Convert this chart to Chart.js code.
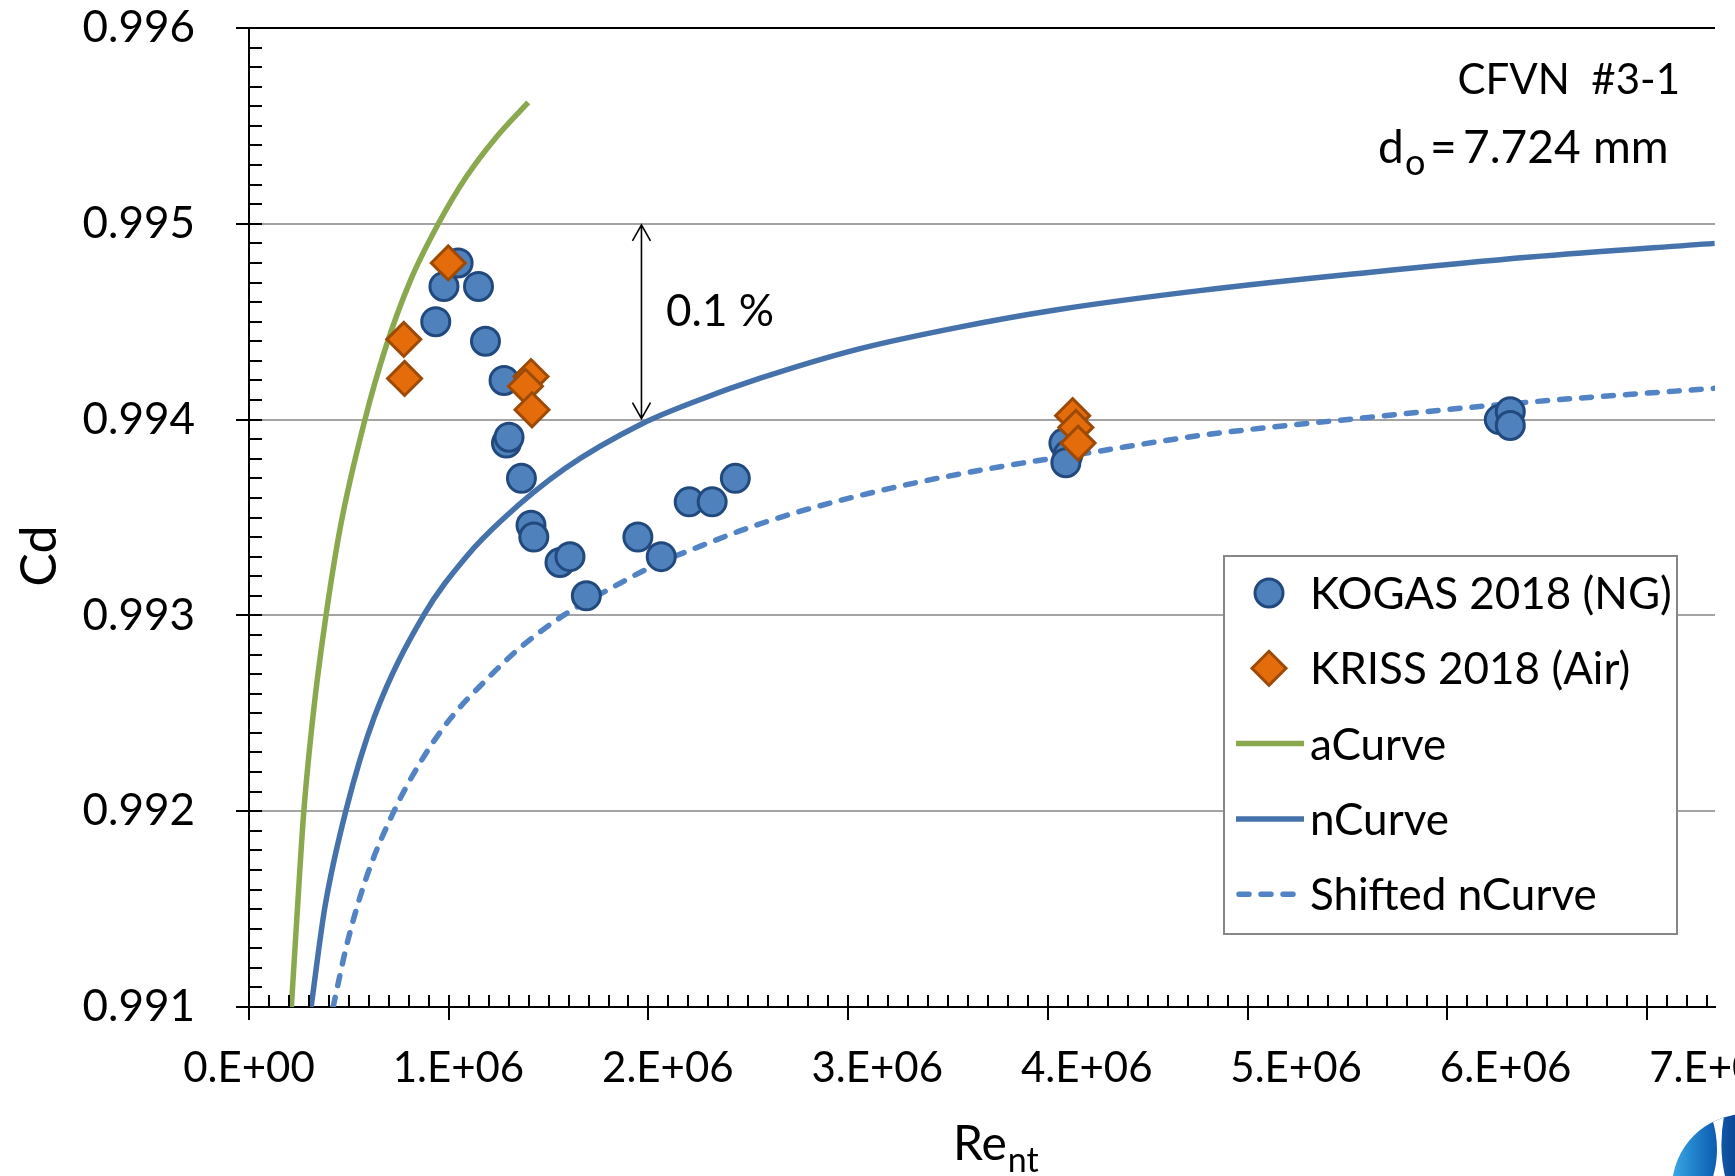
<!DOCTYPE html>
<html>
<head>
<meta charset="utf-8">
<title>CFVN #3-1 Cd vs Re</title>
<script src="https://cdn.jsdelivr.net/npm/chart.js@4.4.1/dist/chart.umd.min.js"></script>
<style>
  html, body { margin: 0; padding: 0; background: #fff; overflow: hidden; }
  canvas { display: block; }
</style>
</head>
<body>
<canvas id="cd" width="1735" height="1176"></canvas>
<script>
(function () {
  'use strict';

  // values (Re, Cd)
  const kogasRe = [0.935e6, 0.976e6, 1.047e6, 1.149e6, 1.184e6, 1.277e6, 1.289e6, 1.302e6,
    1.364e6, 1.412e6, 1.426e6, 1.557e6, 1.607e6, 1.689e6, 1.947e6, 2.064e6, 2.204e6,
    2.319e6, 2.435e6, 4.080e6, 4.100e6, 4.090e6, 6.260e6, 6.315e6, 6.315e6];
  const kogasCd = [0.99450, 0.99468, 0.99480, 0.99468, 0.99440, 0.99420, 0.99388, 0.99391,
    0.99370, 0.99346, 0.99340, 0.99327, 0.99330, 0.99310, 0.99340, 0.99330, 0.99358,
    0.99358, 0.99370, 0.99388, 0.99382, 0.99378, 0.99400, 0.99404, 0.99397];

  const krissRe = [0.775e6, 0.779e6, 0.9975e6, 1.412e6, 1.384e6, 1.417e6, 4.124e6, 4.140e6, 4.151e6];
  const krissCd = [0.99441, 0.99421, 0.99480, 0.99422, 0.99417, 0.99405, 0.99402, 0.99396, 0.99388];

  const aCurveRe = [0.212e6, 0.240e6, 0.273e6, 0.322e6, 0.380e6, 0.459e6, 0.578e6, 0.685e6,
    0.808e6, 0.948e6, 1.088e6, 1.236e6, 1.398e6];
  const aCurveCd = [0.99100, 0.99146, 0.99198, 0.99250, 0.99296, 0.99346, 0.99399, 0.99437,
    0.99471, 0.99500, 0.99524, 0.99544, 0.99562];

  const nCurveRe = [0.311e6, 0.380e6, 0.487e6, 0.627e6, 0.874e6, 1.088e6, 1.269e6, 1.582e6,
    1.970e6, 2.227e6, 2.556e6, 3.050e6, 3.544e6, 4.038e6, 4.770e6, 5.593e6, 6.416e6, 7.338e6];
  const nCurveCd = [0.99100, 0.99151, 0.99201, 0.99248, 0.99300, 0.99330, 0.99349, 0.99375,
    0.99398, 0.99409, 0.99421, 0.99436, 0.99447, 0.99456, 0.99466, 0.99475, 0.99483, 0.99490];

  const shiftRe = [0.421e6, 0.495e6, 0.594e6, 0.726e6, 0.858e6, 1.006e6, 1.187e6, 1.352e6,
    1.574e6, 1.796e6, 2.059e6, 2.227e6, 2.454e6, 2.721e6, 3.215e6, 3.709e6, 4.202e6,
    4.770e6, 5.593e6, 6.416e6, 7.338e6];
  const shiftCd = [0.99100, 0.99134, 0.99168, 0.99200, 0.99225, 0.99247, 0.99267, 0.99283,
    0.99300, 0.99313, 0.99327, 0.99334, 0.99343, 0.99352, 0.99365, 0.99375, 0.99383,
    0.99392, 0.99401, 0.99409, 0.99416];

  const seriesNames = ['KOGAS 2018 (NG)', 'KRISS 2018 (Air)', 'aCurve', 'nCurve', 'Shifted nCurve'];

  const X_MIN = 0, X_MAX = 7.34e6, X_STEP = 1e6, X_MINOR = 1e5;
  const Y_MIN = 0.991, Y_MAX = 0.996, Y_STEP = 0.001, Y_MINOR = 0.0001;

  const FONT = 'Lato, "Open Sans", sans-serif';

  function pts(xs, ys) {
    return xs.map((x, i) => ({ x: x, y: ys[i] }));
  }

  function curve(label, xs, ys, color, dash) {
    return {
      label: label,
      data: pts(xs, ys),
      showLine: true,
      pointRadius: 0,
      borderColor: color,
      backgroundColor: color,
      borderWidth: 5.5,
      borderDash: dash || [],
      borderCapStyle: dash ? 'round' : 'butt',
      cubicInterpolationMode: 'monotone',
      fill: false,
      order: 2
    };
  }

  function text(ctx, str, x, y, size, align, base) {
    ctx.font = size + 'px ' + FONT;
    ctx.textAlign = align || 'left';
    ctx.textBaseline = base || 'alphabetic';
    ctx.fillText(str, x, y);
    return ctx.measureText(str).width;
  }

  // excel-like tick marks, annotations, legend box and axis titles
  const decor = {
    id: 'decor',
    afterDraw(chart) {
      const { ctx, chartArea: area, scales: { x, y } } = chart;
      ctx.save();

      // tick marks: major ones cross the axis, minor ones point inwards
      ctx.strokeStyle = '#000';
      ctx.lineWidth = 2;
      ctx.beginPath();
      for (let i = 0; Y_MIN + i * Y_MINOR <= Y_MAX + 1e-9; i++) {
        const py = Math.round(y.getPixelForValue(Y_MIN + i * Y_MINOR));
        const major = i % 10 === 0;
        ctx.moveTo(area.left - (major ? 13 : 0), py);
        ctx.lineTo(area.left + 13, py);
      }
      for (let i = 0; X_MIN + i * X_MINOR <= X_MAX; i++) {
        const px = Math.round(x.getPixelForValue(X_MIN + i * X_MINOR));
        const major = i % 10 === 0;
        ctx.moveTo(px, area.bottom - 12);
        ctx.lineTo(px, area.bottom + (major ? 13 : 0));
      }
      ctx.stroke();

      // 0.1 % double arrow between the 0.995 and 0.994 grid lines
      const ax = x.getPixelForValue(1.965e6);
      const aTop = y.getPixelForValue(0.995) + 1;
      const aBot = y.getPixelForValue(0.994) - 1;
      ctx.lineWidth = 1.6;
      ctx.beginPath();
      ctx.moveTo(ax, aTop); ctx.lineTo(ax, aBot);
      ctx.moveTo(ax - 9, aTop + 16); ctx.lineTo(ax, aTop); ctx.lineTo(ax + 9, aTop + 16);
      ctx.moveTo(ax - 9, aBot - 16); ctx.lineTo(ax, aBot); ctx.lineTo(ax + 9, aBot - 16);
      ctx.stroke();

      ctx.fillStyle = '#000';
      text(ctx, '0.1 %', 666, 312, 44, 'left', 'middle');

      // nozzle annotation
      text(ctx, 'CFVN  #3-1', 1680, 80, 42, 'right', 'middle');
      text(ctx, 'd', 1378, 163, 46, 'left');
      text(ctx, 'o', 1405, 175, 36, 'left');
      text(ctx, '=', 1430, 163, 46, 'left');
      text(ctx, '7.724', 1463, 163, 46, 'left');
      text(ctx, 'mm', 1593, 163, 46, 'left');

      // axis titles
      ctx.save();
      ctx.translate(40, 556);
      ctx.rotate(-Math.PI / 2);
      text(ctx, 'Cd', 0, 0, 50, 'center', 'middle');
      ctx.restore();
      const reW = text(ctx, 'Re', 953, 1160, 48, 'left');
      text(ctx, 'nt', 953 + reW + 1, 1172, 34, 'left');

      // legend
      const lb = { left: 1224, top: 556, right: 1677, bottom: 934 };
      ctx.fillStyle = '#fff';
      ctx.fillRect(lb.left, lb.top, lb.right - lb.left, lb.bottom - lb.top);
      ctx.strokeStyle = '#868686';
      ctx.lineWidth = 2;
      ctx.strokeRect(lb.left, lb.top, lb.right - lb.left, lb.bottom - lb.top);
      chart.data.datasets.forEach((ds, i) => {
        const cy = lb.top + 37 + i * 75.3;
        ctx.save();
        if (ds.showLine) {
          ctx.strokeStyle = ds.borderColor;
          ctx.lineWidth = ds.borderWidth;
          ctx.lineCap = ds.borderCapStyle;
          ctx.setLineDash(ds.borderDash);
          ctx.beginPath();
          ctx.moveTo(ds.borderDash.length ? 1239 : 1236, cy);
          ctx.lineTo(1304, cy);
          ctx.stroke();
        } else {
          ctx.fillStyle = ds.backgroundColor;
          ctx.strokeStyle = ds.borderColor;
          ctx.lineWidth = ds.borderWidth;
          Chart.helpers.drawPoint(ctx, {
            pointStyle: ds.pointStyle, rotation: 0,
            radius: ds.pointRadius, borderWidth: ds.borderWidth
          }, 1269, cy);
        }
        ctx.restore();
        ctx.fillStyle = '#000';
        text(ctx, ds.label, 1310, cy + 2, 44, 'left', 'middle');
      });

      // corner logo (cut by the picture edge)
      ctx.save();
      ctx.beginPath();
      ctx.arc(1746, 1188, 74, 0, Math.PI * 2);
      ctx.clip();
      const g = ctx.createLinearGradient(1672, 0, 1740, 0);
      g.addColorStop(0, '#39a9e6');
      g.addColorStop(0.55, '#1267b8');
      g.addColorStop(1, '#0b3f8f');
      ctx.fillStyle = g;
      ctx.fillRect(1660, 1100, 80, 80);
      ctx.fillStyle = '#fff';
      ctx.beginPath();
      ctx.moveTo(1712, 1118);
      ctx.quadraticCurveTo(1722, 1150, 1712, 1180);
      ctx.lineTo(1726, 1180);
      ctx.quadraticCurveTo(1718, 1150, 1724, 1116);
      ctx.closePath();
      ctx.fill();
      ctx.restore();

      ctx.restore();
    }
  };

  Chart.defaults.font.family = FONT;
  Chart.defaults.color = '#000';

  const canvas = document.getElementById('cd');
  new Chart(canvas.getContext('2d'), {
    type: 'scatter',
    data: {
      datasets: [
        {
          label: seriesNames[0],
          data: pts(kogasRe, kogasCd),
          pointStyle: 'circle',
          pointRadius: 14,
          backgroundColor: '#4f81bd',
          borderColor: '#22497d',
          borderWidth: 3,
          order: 1
        },
        {
          label: seriesNames[1],
          data: pts(krissRe, krissCd),
          pointStyle: 'rectRot',
          pointRadius: 17,
          backgroundColor: '#e46c0a',
          borderColor: '#9c4a06',
          borderWidth: 3,
          order: 0
        },
        curve(seriesNames[2], aCurveRe, aCurveCd, '#8aa84e'),
        curve(seriesNames[3], nCurveRe, nCurveCd, '#4672ab'),
        curve(seriesNames[4], shiftRe, shiftCd, '#5283c4', [10, 12])
      ]
    },
    options: {
      responsive: false,
      devicePixelRatio: 1,
      animation: false,
      events: [],
      layout: { padding: { left: 0, right: 0, top: 28, bottom: 0 } },
      plugins: {
        legend: { display: false },
        tooltip: { enabled: false }
      },
      scales: {
        x: {
          type: 'linear',
          min: X_MIN,
          max: X_MAX,
          border: { color: '#000', width: 2 },
          grid: { drawOnChartArea: false, drawTicks: false },
          ticks: {
            stepSize: X_STEP,
            includeBounds: false,
            maxRotation: 0,
            padding: 36,
            font: { size: 42 },
            callback: v => v === 0 ? '0.E+00' : Math.round(v / 1e6) + '.E+06'
          },
          afterFit: s => { s.height = 169; s.paddingLeft = 0; s.paddingRight = 0; }
        },
        y: {
          min: Y_MIN,
          max: Y_MAX,
          border: { color: '#000', width: 2 },
          grid: {
            drawTicks: false,
            lineWidth: 2,
            color: c => (c.tick && Math.abs(c.tick.value - Y_MAX) < 1e-9) ? '#000' : '#a3a3a3'
          },
          ticks: {
            stepSize: Y_STEP,
            padding: 54,
            font: { size: 44 },
            callback: v => v.toFixed(3)
          },
          afterFit: s => { s.width = 249; s.paddingTop = 0; s.paddingBottom = 0; }
        }
      }
    },
    plugins: [decor]
  });
})();
</script>
</body>
</html>
